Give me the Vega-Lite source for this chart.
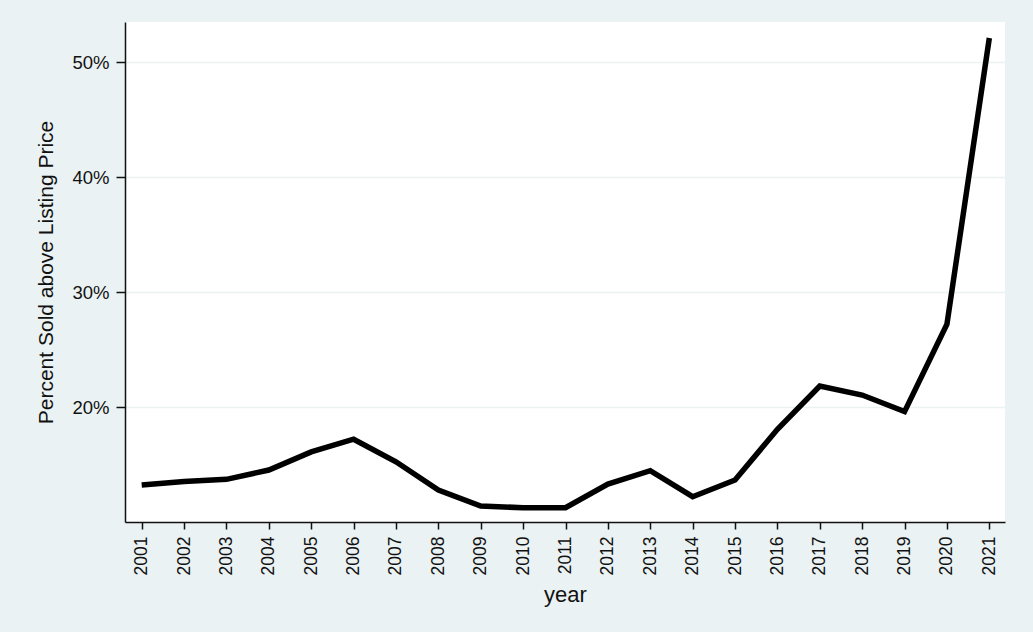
{
  "$schema": "https://vega.github.io/schema/vega-lite/v6.json",
  "width": 880,
  "height": 500,
  "autosize": {"type": "none"},
  "padding": {"left": 125, "top": 22, "right": 28, "bottom": 110},
  "background": "#EAF2F3",
  "config": {
    "view": {"fill": "white", "stroke": null},
    "font": "Liberation Sans",
    "axis": {
      "labelFont": "Liberation Sans",
      "titleFont": "Liberation Sans",
      "labelColor": "#111111",
      "titleColor": "#111111",
      "titleFontWeight": "normal",
      "domainColor": "#111111",
      "tickColor": "#111111",
      "domainWidth": 1.5,
      "tickWidth": 1.5
    }
  },
  "data": {
    "values": [
      {"year": 2001, "pct": 13.22},
      {"year": 2002, "pct": 13.52},
      {"year": 2003, "pct": 13.71},
      {"year": 2004, "pct": 14.52},
      {"year": 2005, "pct": 16.1},
      {"year": 2006, "pct": 17.2},
      {"year": 2007, "pct": 15.24},
      {"year": 2008, "pct": 12.78},
      {"year": 2009, "pct": 11.39},
      {"year": 2010, "pct": 11.24},
      {"year": 2011, "pct": 11.24},
      {"year": 2012, "pct": 13.3},
      {"year": 2013, "pct": 14.46},
      {"year": 2014, "pct": 12.2},
      {"year": 2015, "pct": 13.65},
      {"year": 2016, "pct": 18.06},
      {"year": 2017, "pct": 21.83},
      {"year": 2018, "pct": 21.04},
      {"year": 2019, "pct": 19.6},
      {"year": 2020, "pct": 27.2},
      {"year": 2021, "pct": 52.09}
    ]
  },
  "mark": {"type": "line", "color": "black", "strokeWidth": 5.5, "strokeJoin": "miter", "strokeCap": "butt"},
  "encoding": {
    "x": {
      "field": "year",
      "type": "quantitative",
      "title": "year",
      "scale": {"domain": [2000.606, 2021.37], "nice": false, "zero": false},
      "axis": {
        "values": [2001,2002,2003,2004,2005,2006,2007,2008,2009,2010,2011,2012,2013,2014,2015,2016,2017,2018,2019,2020,2021],
        "format": "d",
        "labelAngle": -90,
        "labelFontSize": 17.5,
        "labelPadding": 7,
        "tickSize": 7,
        "grid": false,
        "titleFontSize": 22,
        "titlePadding": 10
      }
    },
    "y": {
      "field": "pct",
      "type": "quantitative",
      "title": "Percent Sold above Listing Price",
      "scale": {"domain": [10.0, 53.48], "nice": false, "zero": false},
      "axis": {
        "values": [20, 30, 40, 50],
        "labelExpr": "datum.value + '%'",
        "labelFontSize": 18.5,
        "labelPadding": 7,
        "tickSize": 9,
        "grid": true,
        "gridColor": "#EAF2F3",
        "gridWidth": 1.5,
        "titleFontSize": 21,
        "titlePadding": 15
      }
    }
  }
}
